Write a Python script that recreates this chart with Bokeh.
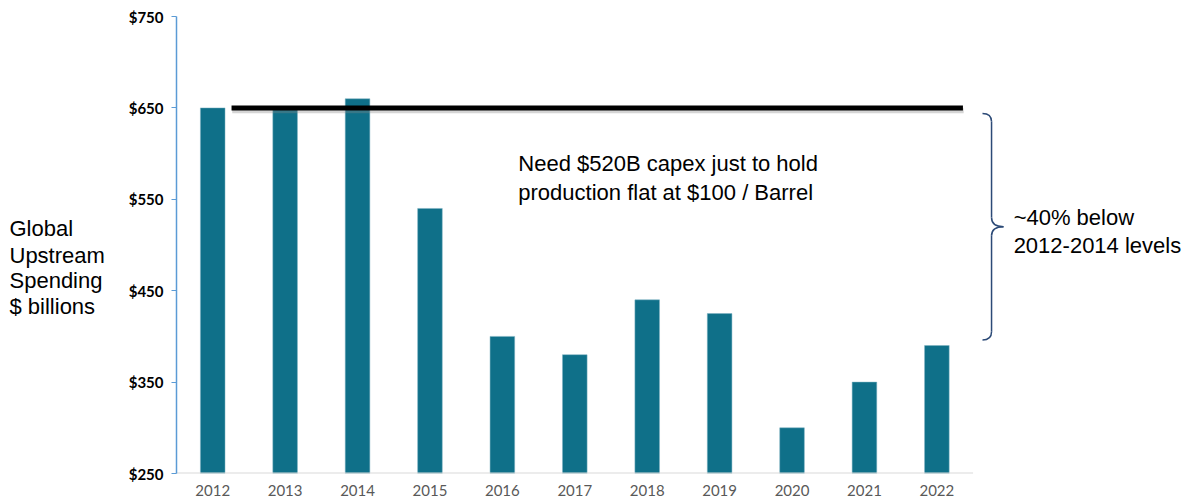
from bokeh.plotting import figure
from bokeh.layouts import row
from bokeh.models import Range1d, FixedTicker, Label, ColumnDataSource
from bokeh.embed import file_html
from bokeh.resources import INLINE

years = ["2012", "2013", "2014", "2015", "2016", "2017", "2018", "2019", "2020", "2021", "2022"]
spending = [650, 650, 660, 540, 400, 380, 440, 425, 300, 350, 390]
y_ticks = [250, 350, 450, 550, 650, 750]
y_tick_labels = ["$250", "$350", "$450", "$550", "$650", "$750"]
y_title_lines = ["Global", "Upstream", "Spending", "$ billions"]
hold_level = 650
brace_top = 644
brace_mid = 520
brace_bottom = 396

xs = list(range(len(years)))
src = ColumnDataSource(dict(x=xs, top=spending, year=years))
yr = Range1d(250, 750)

p = figure(width=1067, height=504, output_backend="svg", toolbar_location=None,
           x_range=Range1d(-0.5, 13.53), y_range=yr,
           min_border_left=50, min_border_right=0, min_border_top=16, min_border_bottom=31)
p.outline_line_color = None
p.xgrid.visible = False
p.ygrid.visible = False
p.background_fill_color = "white"
p.border_fill_color = "white"

p.vbar(x="x", top="top", bottom=250, width=0.34, source=src, fill_color="#0F7089",
       line_color="#7fb3c2", line_width=0.5)

# baseline
p.segment(x0=[-0.5], y0=[250], x1=[len(years) - 0.5], y1=[250], line_color="#d9d9d9", line_width=2)

# hold line with shadow
p.segment(x0=[0.27], y0=[hold_level - 3], x1=[len(years) - 1 + 0.37], y1=[hold_level - 3],
          line_color="#888888", line_alpha=0.35, line_width=5)
p.segment(x0=[0.26], y0=[hold_level], x1=[len(years) - 1 + 0.36], y1=[hold_level],
          line_color="black", line_width=5)

# brace
bx = len(years) - 1 + 0.755
bl = bx - 0.125
br = bx + 0.165
bc = "#2c4a77"
p.quadratic(x0=[bl, bx, br, bx], y0=[brace_top, brace_mid + 10, brace_mid, brace_bottom + 9],
            x1=[bx, br, bx, bl], y1=[brace_top - 9, brace_mid, brace_mid - 10, brace_bottom],
            cx=[bx, bx, bx, bx], cy=[brace_top, brace_mid, brace_mid, brace_bottom],
            line_color=bc, line_width=1.5)
p.segment(x0=[bx, bx], y0=[brace_top - 9, brace_mid - 10], x1=[bx, bx], y1=[brace_mid + 10, brace_bottom + 9],
          line_color=bc, line_width=1.5)

# axes
p.xaxis.ticker = FixedTicker(ticks=xs)
p.xaxis.major_label_overrides = {i: y for i, y in enumerate(years)}
p.xaxis.axis_line_color = None
p.xaxis.major_tick_line_color = None
p.xaxis.minor_tick_line_color = None
p.xaxis.major_tick_out = 0
p.xaxis.major_label_standoff = 11
p.xaxis.major_label_text_font = "Lato"
p.xaxis.major_label_text_font_size = "15px"
p.xaxis.major_label_text_color = "#595959"

p.yaxis.ticker = FixedTicker(ticks=y_ticks)
p.yaxis.major_label_overrides = {t: l for t, l in zip(y_ticks, y_tick_labels)}
p.yaxis.axis_line_color = "#5B9BD5"
p.yaxis.axis_line_width = 1.5
p.yaxis.major_tick_line_color = "#5B9BD5"
p.yaxis.major_tick_out = 5
p.yaxis.major_tick_in = 0
p.yaxis.minor_tick_line_color = None
p.yaxis.major_label_standoff = 8
p.yaxis.major_label_text_font = "Lato"
p.yaxis.major_label_text_font_style = "bold"
p.yaxis.major_label_text_font_size = "15px"
p.yaxis.major_label_text_color = "black"

font = "Liberation Sans"
def add_label(fig, x, y, text):
    fig.add_layout(Label(x=x, y=y, text=text, text_font=font, text_font_size="22px",
                         text_color="black", text_baseline="middle", text_align="left"))

add_label(p, 4.22, 589, "Need $520B capex just to hold")
add_label(p, 4.22, 557.5, "production flat at $100 / Barrel")
add_label(p, 11.06, 530, "~40% below")
add_label(p, 11.06, 499.5, "2012-2014 levels")

# left panel for the y-axis title
left = figure(width=125, height=504, output_backend="svg", toolbar_location=None,
              x_range=Range1d(0, 125), y_range=yr,
              min_border_left=0, min_border_right=0, min_border_top=16, min_border_bottom=31)
left.axis.visible = False
left.grid.visible = False
left.outline_line_color = None
left.border_fill_color = "white"
for yy, t in zip([518, 488.5, 461, 432.7], y_title_lines):
    add_label(left, 9, yy, t)

layout = row(left, p)
open("out.html", "w").write(file_html(layout, INLINE))
